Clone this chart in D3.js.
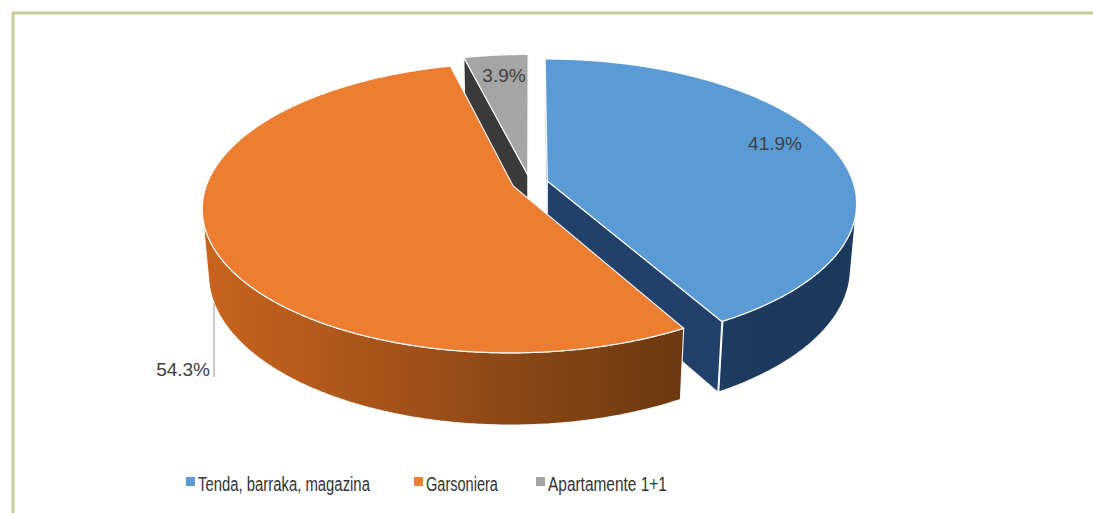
<!DOCTYPE html>
<html><head><meta charset="utf-8">
<script src="https://cdn.jsdelivr.net/npm/d3@7"></script>
<style>body{margin:0;background:#fff;overflow:hidden}</style>
</head><body><svg id="c" width="1093" height="513"></svg>
<script>
// ---- data ----
const categories = ["Tenda, barraka, magazina", "Garsoniera", "Apartamente 1+1"];
const values = [41.9, 54.3, 3.9];
const valueLabels = ["41.9%", "54.3%", "3.9%"];
const topColors = ["#5b9bd5", "#ed7d31", "#a5a5a5"];
const wallColors = [["#1e3b60", "#1c385b"], ["#c9641f", "#6a3811"], ["#444444", "#333333"]];
const faceColors = ["#21406a", "#8a4716", "#3a3a3a"];

// ---- layout / camera ----
const W = 1093, H = 513;
const cx = 530, cy = 183, R = 306, explode = 18, height = 74;
const sinA = 0.46, cosA = Math.sqrt(1 - sinA * sinA);
const persp = 0.15;                       // perspective strength at rim
const t = persp / (R * cosA);             // 1 / camera distance
const F = 1 / t;
const svg = d3.select("#c");

// border (top + left)
svg.append("line").attr("x1", 12).attr("y1", 13).attr("x2", W).attr("y2", 13)
  .attr("stroke", "#cbcb9c").attr("stroke-width", 3);
svg.append("line").attr("x1", 13).attr("y1", 12).attr("x2", 13).attr("y2", H)
  .attr("stroke", "#cbcb9c").attr("stroke-width", 3);

const pie = d3.pie().sort(null).value(d => d).startAngle(0).endAngle(2 * Math.PI);
const arcs = pie(values).map((a, i) => {
  const m = (a.startAngle + a.endAngle) / 2;
  return { ...a, i, o: [explode * Math.sin(m), explode * Math.cos(m)] };
});

// 3D point: X right, D back, Y up  -> screen
function proj(X, D, Y) {
  const zf = 1 + t * (D * cosA - Y * sinA);
  return [cx + X / zf, cy - (Y * cosA + D * sinA) / zf, zf];
}
function rim(a, r, Y, o) { return proj(o[0] + r * Math.sin(a), o[1] + r * Math.cos(a), Y); }
function arcPts(a0, a1, Y, o) {
  const n = Math.max(2, Math.ceil(Math.abs(a1 - a0) / (Math.PI / 360)));
  return d3.range(n + 1).map(j => rim(a0 + (a1 - a0) * j / n, R, Y, o).slice(0, 2));
}
const line = d3.line();
const cam = [0, -F * cosA];   // camera (X, D)

const defs = svg.append("defs");
const g = svg.append("g");

const order = arcs.slice().sort((a, b) => b.o[1] - a.o[1]); // back first
order.forEach(s => {
  const { startAngle: a0, endAngle: a1, o, i } = s;
  const sg = g.append("g");
  const items = [];
  // radial faces
  [[a0, -1], [a1, 1]].forEach(([phi, sgn]) => {
    const n = [sgn * Math.cos(phi), -sgn * Math.sin(phi)];
    const dot = (cam[0] - o[0]) * n[0] + (cam[1] - o[1]) * n[1];
    if (dot > 0) {
      const pts = [rim(phi, 0, 0, o), rim(phi, R, 0, o), rim(phi, R, -height, o), rim(phi, 0, -height, o)];
      const zf = d3.mean(pts, p => p[2]);
      items.push({ zf, d: line(pts.map(p => p.slice(0, 2))) + "Z", fill: faceColors[i] });
    }
  });
  // outer wall, visible portion
  const step = Math.PI / 720;
  let w0 = null, w1 = null;
  for (let a = a0; a <= a1 + 1e-9; a += step) {
    const X = o[0] + R * Math.sin(a), D = o[1] + R * Math.cos(a);
    const vis = (cam[0] - X) * Math.sin(a) + (cam[1] - D) * Math.cos(a) > 0;
    if (vis) { if (w0 === null) w0 = a; w1 = a; }
  }
  if (w0 !== null && w1 > w0) {
    const top = arcPts(w0, w1, 0, o);
    const bot = arcPts(w1, w0, -height, o);
    const xs = top.map(p => p[0]);
    const gid = "wall" + i;
    const lg = defs.append("linearGradient").attr("id", gid)
      .attr("gradientUnits", "userSpaceOnUse")
      .attr("x1", d3.min(xs)).attr("x2", d3.max(xs)).attr("y1", 0).attr("y2", 0);
    lg.append("stop").attr("offset", 0).attr("stop-color", wallColors[i][0]);
    lg.append("stop").attr("offset", 1).attr("stop-color", wallColors[i][1]);
    items.push({ zf: 0, d: line(top.concat(bot)) + "Z", fill: `url(#${gid})` });
  }
  items.sort((a, b) => b.zf - a.zf).forEach(it => {
    sg.append("path").attr("d", it.d).attr("fill", it.fill)
      .attr("stroke", "#fff").attr("stroke-width", 1.2)
      .attr("stroke-linejoin", "round").attr("stroke-opacity", 0.9);
  });
  // top face
  const topPts = [rim(0, 0, 0, o).slice(0, 2)].concat(arcPts(a0, a1, 0, o));
  sg.append("path").attr("d", line(topPts) + "Z")
    .attr("fill", topColors[i]).attr("stroke", "#fff").attr("stroke-width", 1.2)
    .attr("stroke-linejoin", "round").attr("stroke-opacity", 0.9);
});

// leader line for the orange label: from bottom rim of the slice at x = 214
const leaderX = 214;
const orange = arcs[1];
const botRim = arcPts(Math.PI, 1.5 * Math.PI, -height, orange.o);
let leaderTop = 318;
for (let j = 1; j < botRim.length; j++) {
  const [xa, ya] = botRim[j - 1], [xb, yb] = botRim[j];
  if ((xa - leaderX) * (xb - leaderX) <= 0 && xa !== xb) {
    leaderTop = ya + (yb - ya) * (leaderX - xa) / (xb - xa);
    break;
  }
}
svg.append("line").attr("x1", leaderX).attr("y1", leaderTop).attr("x2", leaderX).attr("y2", 377)
  .attr("stroke", "#a6a6a6").attr("stroke-width", 1.2);

// data labels
const labelPos = [
  { x: 775, y: 150, anchor: "middle" },
  { x: 210, y: 376, anchor: "end" },
  { x: 504, y: 82, anchor: "middle" }
];
valueLabels.forEach((tx, i) => {
  svg.append("text").attr("x", labelPos[i].x).attr("y", labelPos[i].y)
    .attr("text-anchor", labelPos[i].anchor)
    .attr("font-family", "'Liberation Sans', Arial, sans-serif")
    .attr("font-size", 19).attr("fill", "#404040").text(tx);
});

// legend
const legX = [186, 414, 536];
const legW = [172, 72, 119];
const leg = svg.append("g");
categories.forEach((c, i) => {
  leg.append("rect").attr("x", legX[i]).attr("y", 477).attr("width", 9).attr("height", 9)
    .attr("fill", topColors[i]);
  const tg = leg.append("g");
  const txt = tg.append("text").attr("x", 0).attr("y", 0)
    .attr("font-family", "'Liberation Sans', Arial, sans-serif")
    .attr("font-size", 21).attr("fill", "#333333")
    .text(c);
  const natural = txt.node().getComputedTextLength();
  tg.attr("transform", `translate(${legX[i] + 12},491) scale(${legW[i] / natural},1)`);
});
</script>
</body></html>
